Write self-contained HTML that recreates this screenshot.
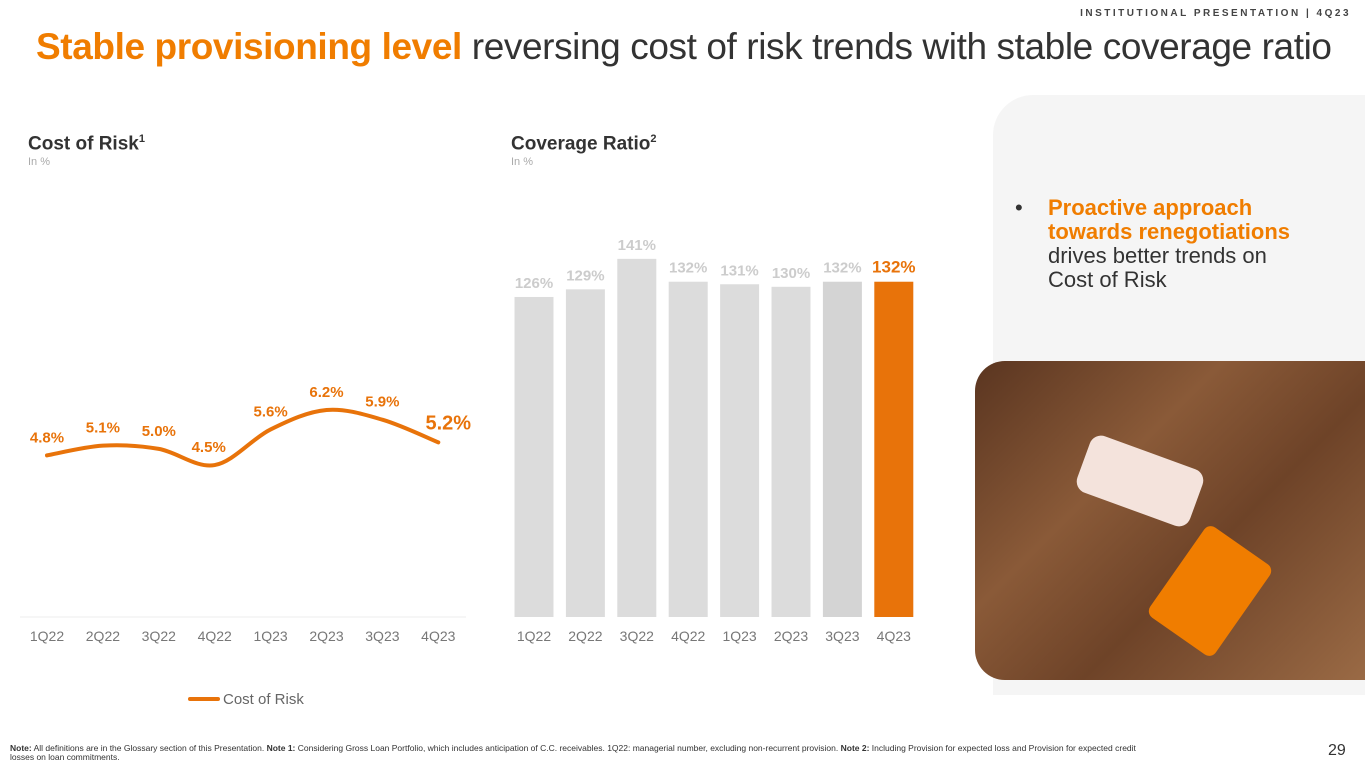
<!DOCTYPE html>
<html><head><meta charset="utf-8"><style>
body{margin:0;width:1365px;height:768px;overflow:hidden;background:#fff;font-family:"Liberation Sans",sans-serif;position:relative}
.abs{position:absolute}
</style></head><body>
<div class="abs" style="right:14px;top:8px;font-size:10px;letter-spacing:2.5px;color:#444;font-weight:bold">INSTITUTIONAL PRESENTATION | 4Q23</div>
<div class="abs" style="left:36px;top:26px;font-size:37px;color:#333;letter-spacing:-0.4px;white-space:nowrap"><b style="color:#f07d00">Stable provisioning level</b> reversing cost of risk trends with stable coverage ratio</div>
<div class="abs" style="left:993px;top:95px;width:372px;height:600px;background:#f5f5f5;border-top-left-radius:40px"></div>
<div class="abs" style="left:1015px;top:196px;font-size:22px;line-height:24px;color:#333;width:320px"><span style="position:absolute;left:0">•</span><div style="margin-left:33px;width:268px"><b style="color:#f07d00">Proactive approach towards renegotiations</b> drives better trends on Cost of Risk</div></div>
<div class="abs" style="left:975px;top:361px;width:390px;height:319px;border-radius:30px 0 0 30px;background:linear-gradient(135deg,#5a3520 0%,#8a5a38 35%,#6e4328 60%,#9a6a45 100%)">
<div class="abs" style="left:105px;top:90px;width:120px;height:60px;background:#f4e3dc;border-radius:12px;transform:rotate(20deg)"></div>
<div class="abs" style="left:195px;top:175px;width:80px;height:110px;background:#f07d00;border-radius:8px;transform:rotate(35deg)"></div>
</div>
<div class="abs" style="left:28px;top:133px;font-size:19px;font-weight:bold;color:#333">Cost of Risk<sup style="font-size:11px">1</sup></div>
<div class="abs" style="left:28px;top:156px;font-size:11px;color:#aaa">In %</div>
<div class="abs" style="left:511px;top:133px;font-size:19px;font-weight:bold;color:#333">Coverage Ratio<sup style="font-size:11px">2</sup></div>
<div class="abs" style="left:511px;top:156px;font-size:11px;color:#aaa">In %</div>
<svg class="abs" style="left:0;top:0" width="1365" height="768" id="svg"></svg>
<div class="abs" style="left:10px;top:744px;font-size:8.5px;line-height:9px;color:#333;width:1150px"><b>Note:</b> All definitions are in the Glossary section of this Presentation. <b>Note 1:</b> Considering Gross Loan Portfolio, which includes anticipation of C.C. receivables. 1Q22: managerial number, excluding non-recurrent provision. <b>Note 2:</b> Including Provision for expected loss and Provision for expected credit losses on loan commitments.</div>
<div class="abs" style="left:1328px;top:742px;font-size:16px;color:#333">29</div>
<script>
const quarters=["1Q22","2Q22","3Q22","4Q22","1Q23","2Q23","3Q23","4Q23"];
const costOfRisk=[4.8,5.1,5.0,4.5,5.6,6.2,5.9,5.2];
const coverage=[126,129,141,132,131,130,132,132];
const NS="http://www.w3.org/2000/svg";
const svg=document.getElementById('svg');
function mk(t,a,txt){const e=document.createElementNS(NS,t);for(const k in a)e.setAttribute(k,a[k]);if(txt!==undefined)e.textContent=txt;svg.appendChild(e);return e;}
const lx=i=>47+i*55.9;
const ly=v=>410+(6.2-v)*32.4;
const pts=costOfRisk.map((v,i)=>[lx(i),ly(v)]);
let d="M"+pts[0][0]+","+pts[0][1];
for(let i=0;i<pts.length-1;i++){const p0=pts[Math.max(0,i-1)],p1=pts[i],p2=pts[i+1],p3=pts[Math.min(pts.length-1,i+2)];
const c1=[p1[0]+(p2[0]-p0[0])/6,p1[1]+(p2[1]-p0[1])/6],c2=[p2[0]-(p3[0]-p1[0])/6,p2[1]-(p3[1]-p1[1])/6];
d+=` C${c1[0]},${c1[1]} ${c2[0]},${c2[1]} ${p2[0]},${p2[1]}`;}
const line=mk('path',{d:d,fill:'none',stroke:'#e8730a','stroke-width':4,'stroke-linecap':'round'});


mk('line',{x1:20,x2:466,y1:617,y2:617,stroke:'#eee'});
costOfRisk.forEach((v,i)=>{
 const last=i===costOfRisk.length-1;
 const t=mk('text',{x:lx(i)+(i===3?-6:0)+(last?10:0),y:ly(v)-13,'text-anchor':'middle','font-size':last?20:15,'font-weight':'bold',fill:'#e8730a'},v.toFixed(1)+'%');
 
 
 const q=mk('text',{x:lx(i),y:641,'text-anchor':'middle','font-size':14,fill:'#777'},quarters[i]);
 
 
});
const lg=mk('line',{x1:190,x2:218,y1:699,y2:699,stroke:'#e8730a','stroke-width':4,'stroke-linecap':'round'});


const lt=mk('text',{x:223,y:704,'font-size':15,fill:'#666'},'Cost of Risk');


const bx=i=>534+i*51.4;
const by=v=>617-v*2.54;
coverage.forEach((v,i)=>{
 const last=i===coverage.length-1;
 const r=mk('rect',{x:bx(i)-19.5,y:by(v),width:39,height:617-by(v),fill:last?'#e8730a':(i===6?'#d4d4d4':'#dcdcdc')});
 
 
 const t=mk('text',{x:bx(i),y:by(v)-9,'text-anchor':'middle','font-size':last?17:15,'font-weight':'bold',fill:last?'#e8730a':'#ccc'},v+'%');
 
 
 const q=mk('text',{x:bx(i),y:641,'text-anchor':'middle','font-size':14,fill:'#777'},quarters[i]);
 
 
});
</script>
</body></html>
